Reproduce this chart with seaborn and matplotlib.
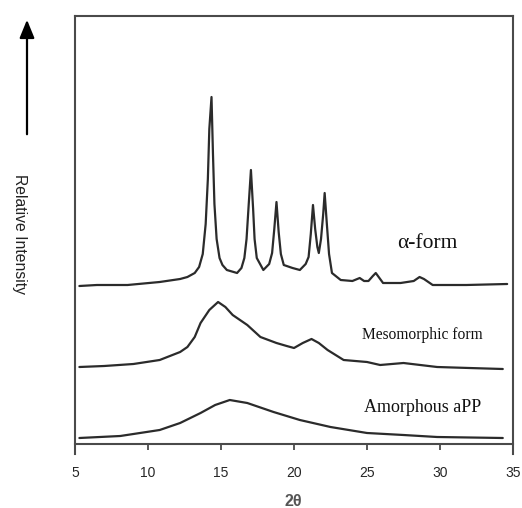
import numpy as np
import pandas as pd
import matplotlib
matplotlib.use("Agg")
import matplotlib.pyplot as plt
import seaborn as sns

# ---- data (arbitrary intensity units) ----
alpha_x = [5.3, 6.5, 8.6, 10.8, 12.2, 12.7, 13.2, 13.5, 13.75, 13.95, 14.1, 14.2, 14.35, 14.45,
           14.55, 14.7, 14.9, 15.1, 15.4, 16.1, 16.4, 16.6, 16.75, 16.9, 17.05, 17.2, 17.3,
           17.45, 17.9, 18.3, 18.5, 18.65, 18.8, 18.95, 19.1, 19.3, 19.9, 20.4, 20.8, 21.0,
           21.15, 21.3, 21.45, 21.6, 21.7, 21.85, 22.0, 22.1, 22.25, 22.4, 22.6, 23.2, 24.0,
           24.5, 24.8, 25.1, 25.4, 25.6, 25.8, 26.1, 27.3, 28.2, 28.6, 28.9, 29.5, 31.8, 34.6]
alpha_y = [158, 159, 159, 162, 165, 167, 171, 177, 190, 220, 265, 315, 347, 290,
           240, 205, 186, 179, 174, 171, 176, 186, 205, 240, 274, 235, 205,
           186, 174, 180, 191, 215, 242, 212, 190, 179, 176, 174, 180, 187,
           210, 239, 215, 197, 191, 205, 230, 251, 220, 190, 171, 164, 163,
           166, 163, 163, 168, 171, 167, 161, 161, 163, 167, 165, 159, 159, 160]

meso_x = [5.3, 7.0, 9.0, 10.8, 12.2, 12.7, 13.2, 13.6, 14.2, 14.8, 15.3, 15.8, 16.8, 17.7,
          18.8, 19.5, 20.0, 20.6, 21.2, 21.7, 22.3, 23.4, 25.0, 25.9, 27.5, 29.8, 32.0, 34.3]
meso_y = [77, 78, 80, 84, 92, 97, 107, 121, 134, 142, 137, 129, 119, 107,
          101, 98, 96, 101, 105, 101, 94, 84, 82, 79, 81, 77, 76, 75]

amorph_x = [5.3, 8.1, 10.8, 12.2, 13.6, 14.6, 15.6, 16.8, 18.6, 20.4, 22.5, 25.0, 27.5, 29.8, 34.3]
amorph_y = [6, 8, 14, 21, 31, 39, 44, 41, 32, 24, 17, 11, 9, 7, 6]

curve_labels = ["\u03b1-form", "Mesomorphic form", "Amorphous aPP"]
x_ticks = [5, 10, 15, 20, 25, 30, 35]

sns.set_style("white")
plt.rcParams['font.family'] = ['Liberation Sans', 'DejaVu Sans']

fig = plt.figure(figsize=(5.22, 5.08), dpi=100)
ax = fig.add_axes([75/522, 1-454/508, 438/522, 438/508])

line_col = "#2b2b2b"
for xs, ys in [(alpha_x, alpha_y), (meso_x, meso_y), (amorph_x, amorph_y)]:
    df = pd.DataFrame({"x": xs, "y": ys})
    sns.lineplot(data=df, x="x", y="y", ax=ax, color=line_col, lw=1.6,
                 estimator=None, sort=False)

ax.set_xlim(5, 35)
ax.set_ylim(-10, 428)
ax.set_xticks(x_ticks)
ax.set_xticklabels([str(t) for t in x_ticks], fontsize=12.5, fontweight='bold', color='#555555')
ax.set_yticks([])
ax.set_xlabel("")
ax.set_ylabel("")
ax.spines['bottom'].set_position(('data', 0))
for s in ax.spines.values():
    s.set_visible(True)
    s.set_color('#4a4a4a')
    s.set_linewidth(1.5)
ax.tick_params(axis='x', direction='out', length=4, width=1.3, color='#4a4a4a', pad=12, bottom=True)

serif = ['Liberation Serif', 'DejaVu Serif']
ax.text(29.1, 201, curve_labels[0], fontsize=15.5, family=serif, ha='center', va='center', color='#111111')
ax.text(28.8, 109, curve_labels[1], fontsize=11.2, family=serif, ha='center', va='center', color='#111111')
ax.text(28.8, 37, curve_labels[2], fontsize=13, family=serif, ha='center', va='center', color='#111111')

fig.text(293/522, 1-502/508, "2\u03b8", fontsize=11.5, fontweight='bold', color='#555555',
         ha='center', va='center')

fig.text(19/522, 1-234/508, "Relative Intensity", rotation=-90, fontsize=11.3,
         ha='center', va='center', color='#222222')
ax.annotate("", xy=(27, 508-17), xycoords='figure pixels',
            xytext=(27, 508-137), textcoords='figure pixels',
            arrowprops=dict(arrowstyle='-|>,head_length=1.1,head_width=0.45', color='black', lw=1.6))

fig.savefig("out.png", dpi=100)
